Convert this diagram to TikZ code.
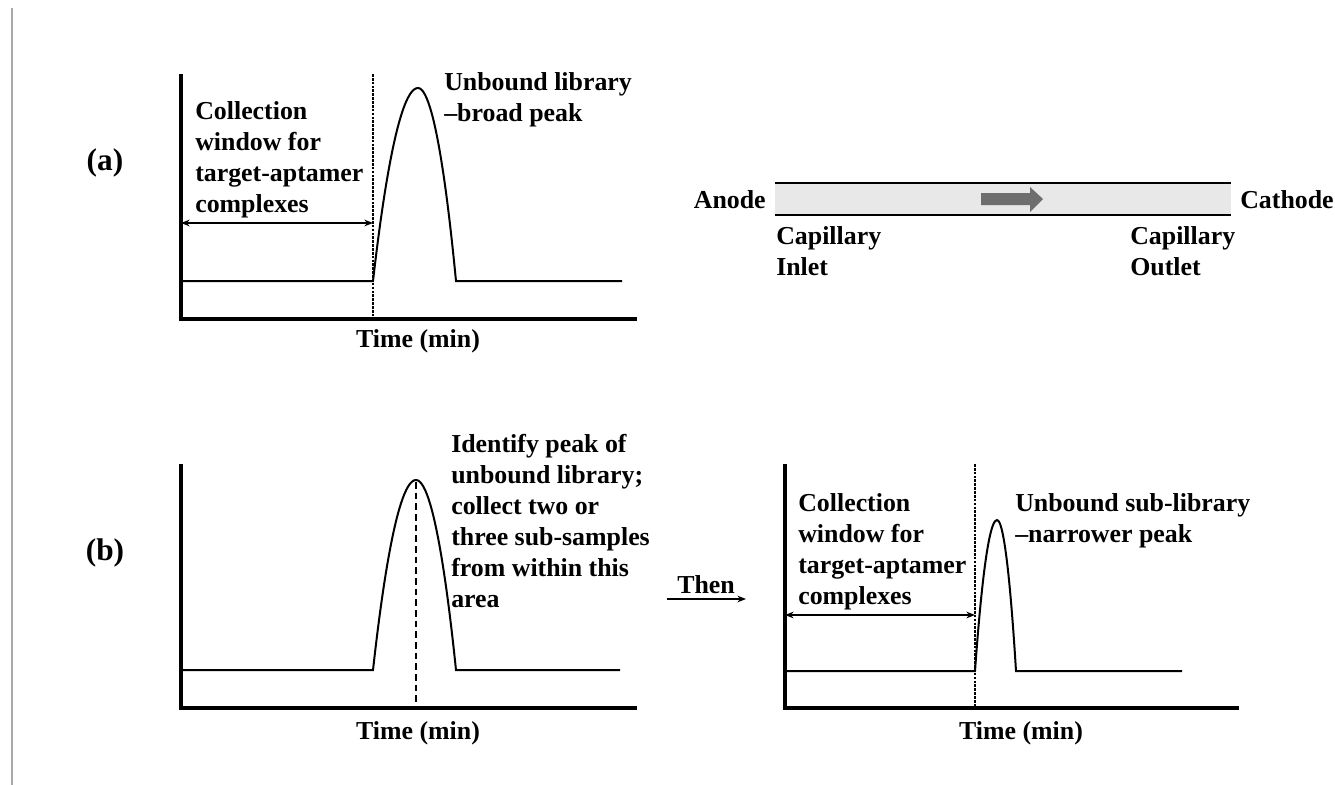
\documentclass[tikz,border=0pt]{standalone}
\usepackage{fontspec}
\setmainfont{Liberation Serif}
\usetikzlibrary{arrows.meta}
\definecolor{capfill}{HTML}{E8E8E8}
\definecolor{caparrow}{HTML}{6E6E6E}
\definecolor{pageline}{HTML}{A8A8A8}
\begin{document}
\begin{tikzpicture}[x=0.75pt,y=-0.75pt,
  axisline/.style={line width=3pt},
  trace/.style={line width=1.5pt},
  winline/.style={line width=1.5pt, dash pattern=on 2pt off 0.9pt},
  peakline/.style={line width=1pt, dash pattern=on 5pt off 3pt},
  dimarrow/.style={line width=0.9pt, {Stealth[length=6.5pt,width=5pt]}-{Stealth[length=6.5pt,width=5pt]}},
  thenarrow/.style={line width=0.9pt, -{Stealth[length=6.5pt,width=5pt]}},
  lbl/.style={font=\fontsize{19.4}{23.25}\selectfont\bfseries, align=left, inner sep=0pt, anchor=north west},
  cen/.style={font=\fontsize{19.4}{23.25}\selectfont\bfseries, inner sep=0pt},
  panel/.style={font=\fontsize{23.5}{27}\selectfont\bfseries, inner sep=0pt}]
\useasboundingbox (0,0) rectangle (1335,785);
% page edge line
\coordinate (pl1) at (12,8);
\coordinate (pl2) at (12,785);
\draw[pageline, line width=1.5pt] (pl1) -- (pl2);

% ---------------- panel (a) graph ----------------
\node[panel] (lab-a) at (105,163) {(a)};
\coordinate (a-top) at (181,74);
\coordinate (a-org) at (181,319);
\coordinate (a-xend) at (637,319);
\draw[axisline] (a-top) -- (a-org) -- (a-xend);
\coordinate (a-b0) at (181,281);
\coordinate (a-p0) at (373,281);
\coordinate (a-apex) at (418,88);
\coordinate (a-p1) at (456,281);
\coordinate (a-b1) at (622,281);
\draw[trace] (a-b0) -- (a-p0) parabola bend (a-apex) (a-p1) -- (a-b1);
\coordinate (a-w0) at (373,74);
\coordinate (a-w1) at (373,319);
\draw[winline] (a-w0) -- (a-w1);
\coordinate (a-d0) at (181,223);
\coordinate (a-d1) at (373,223);
\draw[dimarrow] (a-d0) -- (a-d1);
\node[lbl] (a-coll) at (195,101) {Collection\\window for\\target-aptamer\\complexes};
\node[lbl] (a-unb) at (444,72) {Unbound library\\--broad peak};
\node[cen] (a-time) at (418,341) {Time (min)};

% ---------------- capillary ----------------
\coordinate (c-tl) at (775,183);
\coordinate (c-tr) at (1231,183);
\coordinate (c-bl) at (775,215);
\coordinate (c-br) at (1231,215);
\fill[capfill] (c-tl) rectangle (c-br);
\draw[line width=1.2pt] (c-tl) -- (c-tr);
\draw[line width=1.2pt] (c-bl) -- (c-br);
\fill[caparrow] (981,193) -- (1030,193) -- (1030,187) -- (1043,199) -- (1030,212) -- (1030,205) -- (981,205) -- cycle;
\node[cen, anchor=east] (anode) at (766,200) {Anode};
\node[cen, anchor=west] (cathode) at (1240,200) {Cathode};
\node[lbl] (inlet) at (776,226) {Capillary\\Inlet};
\node[lbl] (outlet) at (1130,226) {Capillary\\Outlet};

% ---------------- panel (b) left graph ----------------
\node[panel] (lab-b) at (105,553) {(b)};
\coordinate (bl-top) at (181,464);
\coordinate (bl-org) at (181,708);
\coordinate (bl-xend) at (637,708);
\draw[axisline] (bl-top) -- (bl-org) -- (bl-xend);
\coordinate (bl-b0) at (181,670);
\coordinate (bl-p0) at (373,670);
\coordinate (bl-apex) at (416,480);
\coordinate (bl-p1) at (456,670);
\coordinate (bl-b1) at (620,670);
\draw[trace] (bl-b0) -- (bl-p0) parabola bend (bl-apex) (bl-p1) -- (bl-b1);
\coordinate (bl-m0) at (416,482);
\coordinate (bl-m1) at (416,708);
\draw[peakline] (bl-m0) -- (bl-m1);
\node[lbl] (bl-ident) at (451,434) {Identify peak of\\unbound library;\\collect two or\\three sub-samples\\from within this\\area};
\node[cen] (bl-time) at (418,733) {Time (min)};

% ---------------- Then arrow ----------------
\node[cen] (then) at (706,585) {Then};
\coordinate (then0) at (667,599);
\coordinate (then1) at (746,599);
\draw[thenarrow] (then0) -- (then1);

% ---------------- panel (b) right graph ----------------
\coordinate (br-top) at (785,464);
\coordinate (br-org) at (785,708);
\coordinate (br-xend) at (1239,708);
\draw[axisline] (br-top) -- (br-org) -- (br-xend);
\coordinate (br-b0) at (785,671);
\coordinate (br-p0) at (975,671);
\coordinate (br-apex) at (997,520);
\coordinate (br-p1) at (1016,671);
\coordinate (br-b1) at (1182,671);
\draw[trace] (br-b0) -- (br-p0) parabola bend (br-apex) (br-p1) -- (br-b1);
\coordinate (br-w0) at (975,464);
\coordinate (br-w1) at (975,708);
\draw[winline] (br-w0) -- (br-w1);
\coordinate (br-d0) at (785,615);
\coordinate (br-d1) at (975,615);
\draw[dimarrow] (br-d0) -- (br-d1);
\node[lbl] (br-coll) at (798,493) {Collection\\window for\\target-aptamer\\complexes};
\node[lbl] (br-unb) at (1015,493) {Unbound sub-library\\--narrower peak};
\node[cen] (br-time) at (1021,733) {Time (min)};
\end{tikzpicture}
\end{document}
